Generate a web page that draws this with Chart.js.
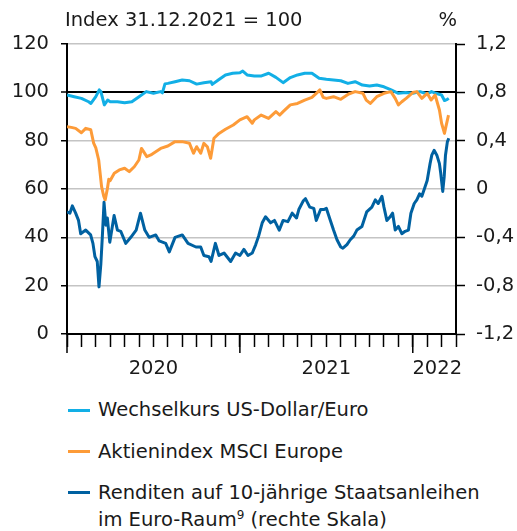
<!DOCTYPE html>
<html>
<head>
<meta charset="utf-8">
<script src="https://cdn.jsdelivr.net/npm/chart.js@4.4.1/dist/chart.umd.min.js"></script>
<style>
    body { margin: 0; background: #fff; }
    #wrap { position: relative; width: 517px; height: 531px; font-family: "DejaVu Sans"; font-size: 19.5px; color: #1a1a1a; }
    #chart { position: absolute; left: 0; top: 0; }
    .txt { position: absolute; line-height: 20px; white-space: nowrap; }
    .leg { position: absolute; left: 98px; line-height: 26.7px; white-space: nowrap; }
    .sw { position: absolute; left: 68px; width: 22px; height: 3px; }
    sup { font-size: 12px; line-height: 0; vertical-align: 7px; }
</style>
</head>
<body>
<div id="wrap">
    <canvas id="chart" width="517" height="390"></canvas>
    <div class="txt" style="left:65px; top:10px;">Index 31.12.2021 = 100</div>
    <div class="txt" style="right:60px; top:10px;">%</div>

    <div class="sw" style="top:408.5px; background:#12afe6;"></div>
    <div class="leg" style="top:397px;">Wechselkurs US-Dollar/Euro</div>
    <div class="sw" style="top:449.5px; background:#fd9b38;"></div>
    <div class="leg" style="top:439px;">Aktienindex MSCI Europe</div>
    <div class="sw" style="top:490.5px; background:#0061a1;"></div>
    <div class="leg" style="top:480px;">Renditen auf 10-jährige Staatsanleihen<br>im Euro-Raum<sup>9</sup> (rechte Skala)</div>
</div>

<script>
// x values are months since 1 Jan 2020 (0 = Jan 2020, 24 = Jan 2022)

// Exchange rate USD/EUR, index 31.12.2021 = 100
const usdMonths = [0, 0.5, 1, 1.5, 1.66, 2.0, 2.24, 2.35, 2.59, 2.82, 3.0, 3.5, 4.0, 4.5, 5.0, 5.5, 6.0, 6.5, 6.62, 6.8,
    7.0, 7.5, 8.0, 8.5, 9.0, 9.5, 10.0, 10.08, 10.5, 11.0, 11.5, 12.0, 12.2, 12.5, 13.0, 13.5, 14.0, 14.5, 15.0, 15.5,
    16.0, 16.5, 17.0, 17.5, 18.0, 18.5, 19.0, 19.5, 20.0, 20.5, 21.0, 21.5, 22.0, 22.5, 23.0, 23.5, 24.0, 24.5, 25.0, 25.3,
    25.6, 26.0, 26.2, 26.4, 26.5];
const usdValues = [98.9, 98.2, 97.5, 96.1, 95.4, 98.2, 101.0, 100.3, 94.8, 96.8, 96.1, 96.1, 95.7, 96.1, 98.2, 100.3, 99.6, 100.3, 99.8, 103.5,
    103.7, 104.4, 105.1, 104.8, 103.4, 104.0, 104.4, 103.3, 105.1, 107.2, 107.9, 108.1, 108.8, 107.2, 106.8, 106.8, 107.9, 106.2, 104.0, 106.1,
    107.2, 107.9, 107.9, 105.8, 105.4, 105.1, 104.8, 103.7, 104.4, 103.0, 102.6, 103.0, 102.3, 101.0, 99.6, 99.9, 99.6, 100.3, 99.3, 100.3,
    99.6, 98.9, 96.6, 97.1, 97.5];

// MSCI Europe, index 31.12.2021 = 100
const msciMonths = [0, 0.3, 0.6, 1.0, 1.3, 1.65, 1.85, 2.0, 2.2, 2.4, 2.55, 2.65, 2.8, 2.9, 3.0, 3.28, 3.63, 4.0, 4.32, 4.67,
    4.99, 5.17, 5.54, 5.82, 6.0, 6.5, 7.0, 7.5, 8.0, 8.5, 8.78, 9.0, 9.28, 9.5, 9.74, 9.97, 10.2, 10.55, 11.0, 11.54,
    12.0, 12.5, 12.86, 13.0, 13.48, 13.99, 14.5, 14.77, 15.0, 15.5, 16.0, 16.5, 17.0, 17.36, 17.55, 17.78, 18.0, 18.5, 19.0, 19.55,
    20.0, 20.54, 20.77, 21.05, 21.5, 22.0, 22.48, 22.78, 23.0, 23.24, 23.54, 24.0, 24.28, 24.63, 25.0, 25.27, 25.55, 25.85, 26.0, 26.2,
    26.3, 26.48];
const msciValues = [85.8, 85.5, 85.1, 83.3, 85.1, 84.5, 79.0, 77.0, 72.0, 61.0, 57.0, 55.5, 60.0, 64.0, 63.5, 66.5, 67.9, 68.6, 67.2, 69.2,
    72.0, 76.8, 73.4, 74.1, 74.8, 76.8, 77.8, 79.6, 79.6, 78.9, 74.8, 77.5, 74.8, 78.9, 77.5, 72.7, 81.0, 83.0, 84.7, 86.5,
    88.6, 89.9, 87.2, 88.6, 90.6, 89.2, 92.0, 90.6, 92.0, 94.8, 95.4, 96.8, 97.9, 99.9, 101.0, 97.9, 97.5, 98.2, 97.1, 99.3,
    100.3, 99.6, 96.8, 95.4, 98.2, 99.6, 100.3, 97.5, 94.8, 96.1, 97.5, 99.9, 100.3, 97.5, 99.6, 96.8, 98.9, 92.7, 87.2, 83.0,
    85.8, 90.6];

// 10-year government bond yields, euro area (%, right scale)
const yieldMonths = [0, 0.2, 0.37, 0.6, 0.8, 0.95, 1.3, 1.64, 1.8, 1.94, 2.1, 2.22, 2.35, 2.45, 2.57, 2.7, 2.8, 2.97, 3.27, 3.5,
    3.73, 4.08, 4.43, 4.8, 5.1, 5.4, 5.7, 6.16, 6.4, 6.85, 7.1, 7.5, 8.0, 8.4, 8.95, 9.28, 9.5, 9.85, 10.0, 10.3,
    10.55, 10.9, 11.36, 11.7, 12.0, 12.28, 12.56, 12.86, 13.1, 13.3, 13.55, 13.78, 14.13, 14.4, 14.73, 15.0, 15.33, 15.63, 15.93, 16.09,
    16.39, 16.55, 16.85, 17.13, 17.3, 17.6, 17.82, 18.0, 18.28, 18.5, 18.74, 19.0, 19.15, 19.43, 19.66, 19.9, 20.12, 20.47, 20.8, 21.16,
    21.4, 21.6, 21.86, 22.0, 22.2, 22.43, 22.6, 22.78, 23.0, 23.24, 23.47, 23.7, 23.87, 24.1, 24.28, 24.47, 24.63, 24.86, 25.0, 25.2,
    25.32, 25.48, 25.67, 25.85, 25.94, 26.08, 26.18, 26.27, 26.4, 26.5];
const yieldValues = [-0.19, -0.20, -0.14, -0.20, -0.26, -0.37, -0.34, -0.38, -0.45, -0.56, -0.60, -0.81, -0.62, -0.40, -0.11, -0.30, -0.24, -0.44, -0.22, -0.34,
    -0.35, -0.45, -0.40, -0.34, -0.20, -0.34, -0.40, -0.38, -0.43, -0.45, -0.52, -0.40, -0.38, -0.45, -0.48, -0.48, -0.55, -0.56, -0.60, -0.45,
    -0.55, -0.53, -0.60, -0.53, -0.55, -0.50, -0.55, -0.53, -0.46, -0.39, -0.28, -0.23, -0.28, -0.26, -0.34, -0.26, -0.27, -0.20, -0.24, -0.17,
    -0.10, -0.08, -0.15, -0.16, -0.26, -0.17, -0.17, -0.16, -0.26, -0.34, -0.42, -0.48, -0.49, -0.46, -0.42, -0.39, -0.34, -0.31, -0.19, -0.15,
    -0.09, -0.12, -0.06, -0.15, -0.26, -0.23, -0.20, -0.34, -0.31, -0.37, -0.35, -0.34, -0.20, -0.12, -0.09, -0.04, -0.06, 0.02, 0.07, 0.21,
    0.28, 0.32, 0.28, 0.21, 0.13, -0.02, 0.10, 0.28, 0.39, 0.42];

// Axis labels
const yearLabels = ['2020', '2021', '2022'];
const yearLabelPos = [6, 18, 25.7];
const yearStarts = [0, 12, 24];
const monthCount = 27;

const FONT = { family: 'DejaVu Sans', size: 19.5 };
const TEXT = '#1a1a1a';

const toPoints = (xs, ys) => xs.map((x, i) => ({ x: x, y: ys[i] }));

// month ticks plus the positions of the year labels
const xTicks = [];
for (let m = 0; m <= monthCount; m++) xTicks.push(m);
yearLabelPos.forEach(p => { if (!xTicks.includes(p)) xTicks.push(p); });
xTicks.sort((a, b) => a - b);

// longer tick marks at the start of each year
const yearTickPlugin = {
    id: 'yearTicks',
    afterDraw(chart) {
        const xs = chart.scales.x;
        const ctx = chart.ctx;
        ctx.save();
        ctx.strokeStyle = '#000';
        ctx.lineWidth = 1.5;
        yearStarts.forEach(m => {
            const px = xs.getPixelForValue(m);
            ctx.beginPath();
            ctx.moveTo(px, xs.top);
            ctx.lineTo(px, xs.top + 19);
            ctx.stroke();
        });
        ctx.restore();
    }
};

const lineStyle = { pointRadius: 0, borderWidth: 3, tension: 0, borderJoinStyle: 'round', fill: false };

new Chart(document.getElementById('chart'), {
    type: 'line',
    data: {
        datasets: [
            { ...lineStyle, label: 'Wechselkurs US-Dollar/Euro', data: toPoints(usdMonths, usdValues), borderColor: '#12afe6', yAxisID: 'y', order: 3 },
            { ...lineStyle, label: 'Aktienindex MSCI Europe', data: toPoints(msciMonths, msciValues), borderColor: '#fd9b38', yAxisID: 'y', order: 2 },
            { ...lineStyle, label: 'Renditen auf 10-jährige Staatsanleihen', data: toPoints(yieldMonths, yieldValues), borderColor: '#0061a1', yAxisID: 'y1', order: 1 }
        ]
    },
    options: {
        responsive: false,
        animation: false,
        layout: { padding: { top: 44, left: 0, right: 0, bottom: 0 } },
        plugins: { legend: { display: false }, tooltip: { enabled: false } },
        scales: {
            x: {
                type: 'linear',
                min: 0,
                max: monthCount,
                afterBuildTicks: s => { s.ticks = xTicks.map(v => ({ value: v })); },
                afterFit: s => { s.height = 56; },
                border: { display: true, color: '#000', width: 2 },
                grid: {
                    drawOnChartArea: false,
                    drawTicks: true,
                    tickLength: 13,
                    tickWidth: 1.5,
                    tickColor: c => Number.isInteger(c.tick.value) ? '#000' : 'rgba(0,0,0,0)'
                },
                ticks: {
                    autoSkip: false,
                    maxRotation: 0,
                    minRotation: 0,
                    padding: 10,
                    font: FONT,
                    color: TEXT,
                    callback: v => {
                        const i = yearLabelPos.indexOf(v);
                        return i >= 0 ? yearLabels[i] : '';
                    }
                }
            },
            y: {
                position: 'left',
                min: 0,
                max: 120,
                afterFit: s => { s.width = 67; },
                border: { display: true, color: '#000', width: 2 },
                grid: {
                    color: c => c.tick.value === 100 ? '#000' : (c.tick.value === 0 ? 'rgba(0,0,0,0)' : '#c4c4c4'),
                    lineWidth: c => c.tick.value === 100 ? 2 : 1.5,
                    tickLength: 6,
                    tickWidth: 1.5,
                    tickColor: '#000'
                },
                ticks: { stepSize: 20, padding: 12, font: FONT, color: TEXT }
            },
            y1: {
                position: 'right',
                min: -1.2,
                max: 1.2,
                afterFit: s => { s.width = 61; },
                border: { display: true, color: '#000', width: 2 },
                grid: { drawOnChartArea: false, tickLength: 9, tickWidth: 1.5, tickColor: '#000' },
                ticks: {
                    stepSize: 0.4,
                    padding: 11,
                    font: FONT,
                    color: TEXT,
                    callback: v => {
                        const r = Math.round(v * 10) / 10;
                        return r === 0 ? '0' : r.toFixed(1).replace('.', ',');
                    }
                }
            }
        }
    },
    plugins: [yearTickPlugin]
});
</script>
</body>
</html>
